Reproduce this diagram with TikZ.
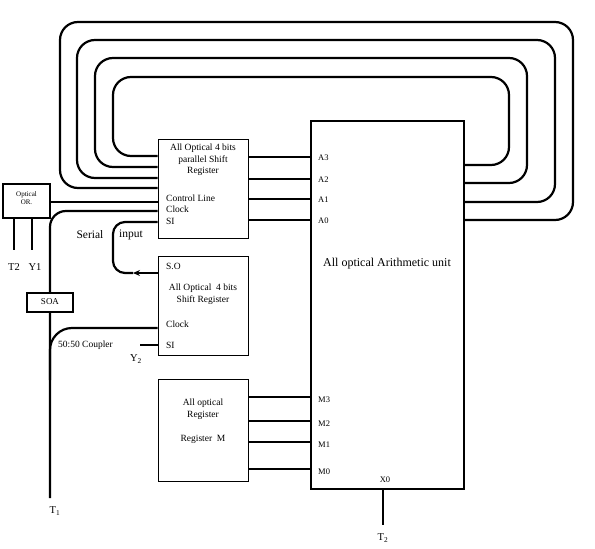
\documentclass[tikz,border=0pt]{standalone}
\usepackage{fontspec}
\setmainfont{Liberation Serif}
\usetikzlibrary{arrows.meta,positioning}
\tikzset{
  regbox/.style={draw,line width=0.8pt,minimum width=90pt,minimum height=99pt,inner sep=0pt},
  unitbox/.style={draw,line width=2pt,fill=white,inner sep=0pt},
  wire/.style={line width=2.2pt},
  boxtext/.style={font=\fontsize{9.5}{11.5}\selectfont,align=center,inner sep=0pt},
  porttext/.style={font=\fontsize{9.5}{11.5}\selectfont,anchor=west,inner sep=0pt},
  pinlabel/.style={font=\fontsize{8.5}{10}\selectfont,anchor=west,inner sep=0pt},
  endlabel/.style={font=\fontsize{10.5}{12}\selectfont,inner sep=0pt}
}
\begin{document}
\begin{tikzpicture}[x=1pt,y=-1pt]
  \useasboundingbox (0,0) rectangle (595,549);
  % blocks
  \node[regbox] (shiftpar) at (203,188.5) {};
  \node[regbox] (shiftser) at (203,305.5) {};
  \node[regbox,minimum height=102pt] (regm) at (203,430) {};
  \node[draw,line width=2pt,minimum width=153pt,minimum height=368pt,inner sep=0pt] (alu) at (387.5,305) {};
  \node[unitbox,minimum width=47pt,minimum height=34pt] (optor) at (26.5,201) {};

  % feedback loops A3..A0
  \foreach \yr/\xr/\yt/\xl/\yl in {165/509/77/113/156,183/527/58/95/167,202/555/40/77/178,220/573/22/60/188}
    \draw[wire,rounded corners=18] (alu.east |- 0,\yr) -| (\xr,\yt) -| (\xl,\yl) -- (shiftpar.west |- 0,\yl);

  % parallel outputs into the unit
  \foreach \y/\lab in {157/A3,179/A2,199/A1,220/A0}{
    \draw[wire] (shiftpar.east |- 0,\y) -- (alu.west |- 0,\y);
    \node[pinlabel] (pin-\lab) at (318,\y+1) {\lab};
  }
  \foreach \y/\lab in {397/M3,421/M2,442/M1,469/M0}{
    \draw[wire] (regm.east |- 0,\y) -- (alu.west |- 0,\y);
    \node[pinlabel] (pin-\lab) at (318,\y+3) {\lab};
  }

  % output X0
  \node[pinlabel,anchor=center] (x0) at (385,480) {X0};
  \coordinate (t2) at (383,525);
  \draw[wire] (alu.south -| t2) -- (t2);
  \node[endlabel] (t2-label) at (383,538) {T\textsubscript{2}};

  % optical OR inputs
  \coordinate (or-a) at (14,250);
  \coordinate (or-b) at (32,250);
  \draw[wire] (optor.south -| or-a) -- (or-a);
  \draw[wire] (optor.south -| or-b) -- (or-b);
  \node[endlabel] (or-a-label) at (14,267) {T2};
  \node[endlabel] (or-b-label) at (35,267) {Y1};
  \draw[wire] (optor.east |- 0,202) -- (shiftpar.west |- 0,202);

  % clock line through SOA and coupler
  \coordinate (t1) at (50,498);
  \draw[wire,rounded corners=16] (shiftpar.west |- 0,211) -| (t1);
  \draw[wire,rounded corners=22] (shiftser.west |- 0,328) -| (50,380);
  \node[unitbox,minimum width=46pt,minimum height=19pt,font=\fontsize{9}{10}\selectfont] (soa) at (50,302) {SOA};
  \node[endlabel] (t1-label) at (55,511) {T\textsubscript{1}};
  \node[porttext] (coupler) at (58,345) {50:50 Coupler};

  % SI of the serial register
  \coordinate (y2) at (140,345);
  \draw[wire] (y2) -- (shiftser.west |- y2);
  \node[endlabel] (y2-label) at (136,359) {Y\textsubscript{2}};

  % serial input loop
  \coordinate (serialtip) at (133,273);
  \draw[wire,-{Stealth[length=7pt,width=6pt]}] (shiftser.west |- 0,273) -- (serialtip);
  \draw[wire,rounded corners=12] (serialtip) -| (113,222) -- (shiftpar.west |- 0,222);
  \node[font=\fontsize{11.5}{13}\selectfont,inner sep=0pt] (serial) at (90,235) {Serial};
  \node[font=\fontsize{11.5}{13}\selectfont,inner sep=0pt] (input) at (131,235) {input};

  % texts in the blocks
  \node[boxtext] (shiftpar-title) at (203,160) {All Optical 4 bits\\parallel Shift\\Register};
  \node[porttext] (shiftpar-ctl) at (166,198) {Control Line};
  \node[porttext] (shiftpar-clk) at (166,209) {Clock};
  \node[porttext] (shiftpar-si) at (166,221) {SI};
  \node[porttext] (shiftser-so) at (166,266) {S.O};
  \node[boxtext] (shiftser-title) at (203,294) {All Optical\ \ 4 bits\\Shift Register};
  \node[porttext] (shiftser-clk) at (166,324) {Clock};
  \node[porttext] (shiftser-si) at (166,345) {SI};
  \node[boxtext] (regm-title) at (203,409) {All optical\\Register};
  \node[boxtext] (regm-name) at (203,439) {Register\ \ M};
  \node[font=\fontsize{12}{14}\selectfont,inner sep=0pt] (alu-title) at (387,264) {All optical Arithmetic unit};
  \node[boxtext,font=\fontsize{7}{8.5}\selectfont] (optor-title) at (26.5,198) {Optical\\OR.};
\end{tikzpicture}
\end{document}
